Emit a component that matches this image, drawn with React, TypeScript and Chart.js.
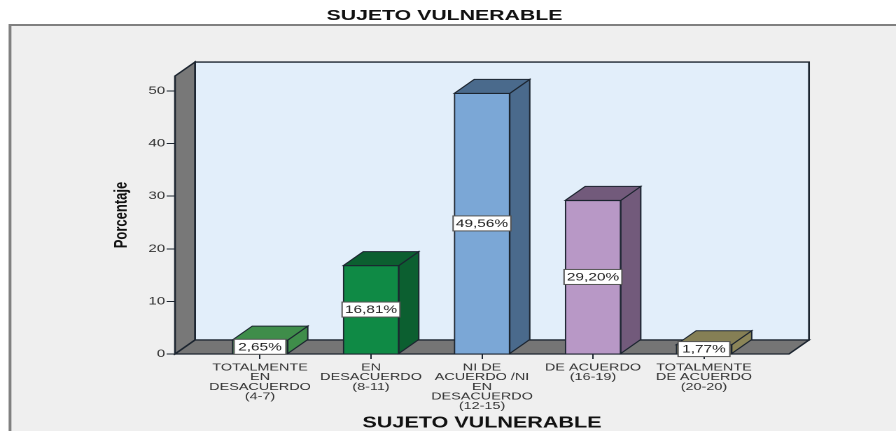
import React, { useEffect, useRef } from "react";
import { Chart, registerables } from "chart.js";

Chart.register(...registerables);

const chartTitle = "SUJETO VULNERABLE";
const xTitle = "SUJETO VULNERABLE";
const yTitle = "Porcentaje";
const categories = [
  ["TOTALMENTE", "EN", "DESACUERDO", "(4-7)"],
  ["EN", "DESACUERDO", "(8-11)"],
  ["NI DE", "ACUERDO /NI", "EN", "DESACUERDO", "(12-15)"],
  ["DE ACUERDO", "(16-19)"],
  ["TOTALMENTE", "DE ACUERDO", "(20-20)"],
];
const positions = [0, 1, 2, 3, 4];
const values = [2.65, 16.81, 49.56, 29.2, 1.77];
const valueLabels = ["2,65%", "16,81%", "49,56%", "29,20%", "1,77%"];
const frontColors = ["#3d8b4b", "#0f8a45", "#7ba7d6", "#b898c6", "#8b8558"];
const sideColors = ["#3f8d4a", "#0c5f30", "#4a6a8c", "#725a7b", "#8b8558"];
const topColors = ["#3f8d4a", "#0c5f30", "#4a6a8c", "#725a7b", "#857f55"];

// The reference is a horizontally stretched picture: the canvas is drawn narrow and stretched by CSS.
const STRETCH = 1.4;
const W = 640;
const H = 431;
const DX = 20 / STRETCH;
const DY = 14;
const LINE = "#1c2530";
const FONT = "'Liberation Sans', Arial, sans-serif";

function poly(ctx: CanvasRenderingContext2D, pts: number[][], fill: string, stroke = LINE, lw = 1) {
  ctx.beginPath();
  pts.forEach((p, i) => (i ? ctx.lineTo(p[0], p[1]) : ctx.moveTo(p[0], p[1])));
  ctx.closePath();
  ctx.fillStyle = fill;
  ctx.fill();
  ctx.strokeStyle = stroke;
  ctx.lineWidth = lw;
  ctx.stroke();
}

const stagePlugin = {
  id: "stage",
  beforeDraw(chart: any) {
    const ctx = chart.ctx;
    ctx.save();
    ctx.fillStyle = "#ffffff";
    ctx.fillRect(0, 0, W, H);
    ctx.fillStyle = "#efefef";
    ctx.fillRect(10 / STRETCH, 25, W, H);
    ctx.strokeStyle = "#808080";
    ctx.lineWidth = 2;
    ctx.beginPath();
    ctx.moveTo(10 / STRETCH, H + 2);
    ctx.lineTo(10 / STRETCH, 25);
    ctx.lineTo(W + 2, 25);
    ctx.stroke();
    ctx.restore();
  },
  beforeDatasetsDraw(chart: any) {
    const { ctx, chartArea: a } = chart;
    const { left: l, right: r, top: t, bottom: b } = a;
    ctx.save();
    poly(ctx, [[l + DX, t - DY], [r + DX, t - DY], [r + DX, b - DY], [l + DX, b - DY]], "#e2eefa", LINE, 1.3);
    poly(ctx, [[l, b], [l + DX, b - DY], [l + DX, t - DY], [l, t]], "#787878", LINE, 1.3);
    poly(ctx, [[l, b], [r, b], [r + DX, b - DY], [l + DX, b - DY]], "#757575", LINE, 1.3);
    chart.getDatasetMeta(0).data.forEach((el: any, i: number) => {
      const hw = el.width / 2;
      const x0 = el.x - hw;
      const x1 = el.x + hw;
      poly(ctx, [[x1, el.base], [x1 + DX, el.base - DY], [x1 + DX, el.y - DY], [x1, el.y]], sideColors[i]);
      poly(ctx, [[x0, el.y], [x1, el.y], [x1 + DX, el.y - DY], [x0 + DX, el.y - DY]], topColors[i]);
    });
    ctx.restore();
  },
  afterDatasetsDraw(chart: any) {
    const ctx = chart.ctx;
    ctx.save();
    ctx.font = `11px ${FONT}`;
    ctx.textAlign = "center";
    ctx.textBaseline = "middle";
    chart.getDatasetMeta(0).data.forEach((el: any, i: number) => {
      const cy = (el.y + el.base) / 2;
      const tw = ctx.measureText(valueLabels[i]).width + 4;
      const bw = Math.max(tw, 37);
      ctx.fillStyle = "#ffffff";
      ctx.strokeStyle = "#555555";
      ctx.lineWidth = 1;
      ctx.fillRect(el.x - bw / 2, cy - 7.5, bw, 15);
      ctx.strokeRect(el.x - bw / 2, cy - 7.5, bw, 15);
      ctx.fillStyle = "#222222";
      ctx.fillText(valueLabels[i], el.x, cy + 0.5);
    });
    ctx.restore();
  },
};

export default function App() {
  const ref = useRef<HTMLCanvasElement>(null);
  useEffect(() => {
    const chart = new Chart(ref.current!, {
      type: "bar",
      plugins: [stagePlugin],
      data: {
        datasets: [
          {
            data: positions.map((p, i) => ({ x: p, y: values[i] })),
            backgroundColor: frontColors,
            borderColor: LINE,
            borderWidth: 1,
            barThickness: 55.5 / STRETCH,
          },
        ],
      },
      options: {
        animation: false,
        responsive: false,
        devicePixelRatio: 2,
        layout: { padding: { left: 0, right: 5, top: 0, bottom: 0 } },
        plugins: {
          legend: { display: false },
          tooltip: { enabled: false },
          title: {
            display: true,
            text: chartTitle,
            color: "#111111",
            font: { family: FONT, size: 15.2, weight: "bold", lineHeight: 1.2 },
            padding: { top: 6.9, bottom: 50.9 },
          },
        },
        scales: {
          x: {
            type: "linear",
            min: -0.766,
            max: 4.766,
            offset: false,
            afterBuildTicks: (s: any) => {
              s.ticks = positions.map((v) => ({ value: v }));
            },
            afterFit: (s: any) => {
              s.height = H - 354;
            },
            border: { display: false },
            grid: { offset: false, drawOnChartArea: false, drawTicks: true, tickLength: 5, tickColor: LINE },
            ticks: {
              autoSkip: false,
              maxRotation: 0,
              minRotation: 0,
              padding: 4,
              color: "#333333",
              font: { family: FONT, size: 10.3, lineHeight: 0.93 },
              callback: (v: any) => categories[v as number],
            },
            title: {
              display: true,
              text: xTitle,
              color: "#111111",
              font: { family: FONT, size: 15.4, weight: "bold", lineHeight: 1 },
              padding: { top: 0, bottom: 0 },
            },
          },
          y: {
            min: 0,
            max: 52.85,
            afterFit: (s: any) => {
              s.width = 175 / STRETCH;
            },
            border: { display: false },
            grid: { drawOnChartArea: false, drawTicks: true, tickLength: 6, tickColor: LINE },
            ticks: {
              stepSize: 10,
              includeBounds: false,
              padding: 1,
              color: "#333333",
              font: { family: FONT, size: 10.8 },
            },
            title: {
              display: true,
              text: yTitle,
              color: "#111111",
              font: { family: FONT, size: 13, weight: "bold", lineHeight: 1.2 },
              padding: { top: 79, bottom: 0 },
            },
          },
          y2: {
            position: "right",
            afterFit: (s: any) => {
              s.width = W - 789 / STRETCH - 5;
            },
            border: { display: false },
            grid: { display: false },
            ticks: { display: false },
          },
        },
      } as any,
    } as any);
    return () => chart.destroy();
  }, []);
  return (
    <div style={{ position: "fixed", left: 0, top: 0, width: 896, height: 431, overflow: "hidden", background: "#fff" }}>
      <canvas
        ref={ref}
        width={W}
        height={H}
        style={{ position: "absolute", left: 0, top: 0, transformOrigin: "0 0", transform: `scaleX(${896 / W})` }}
      />
    </div>
  );
}
